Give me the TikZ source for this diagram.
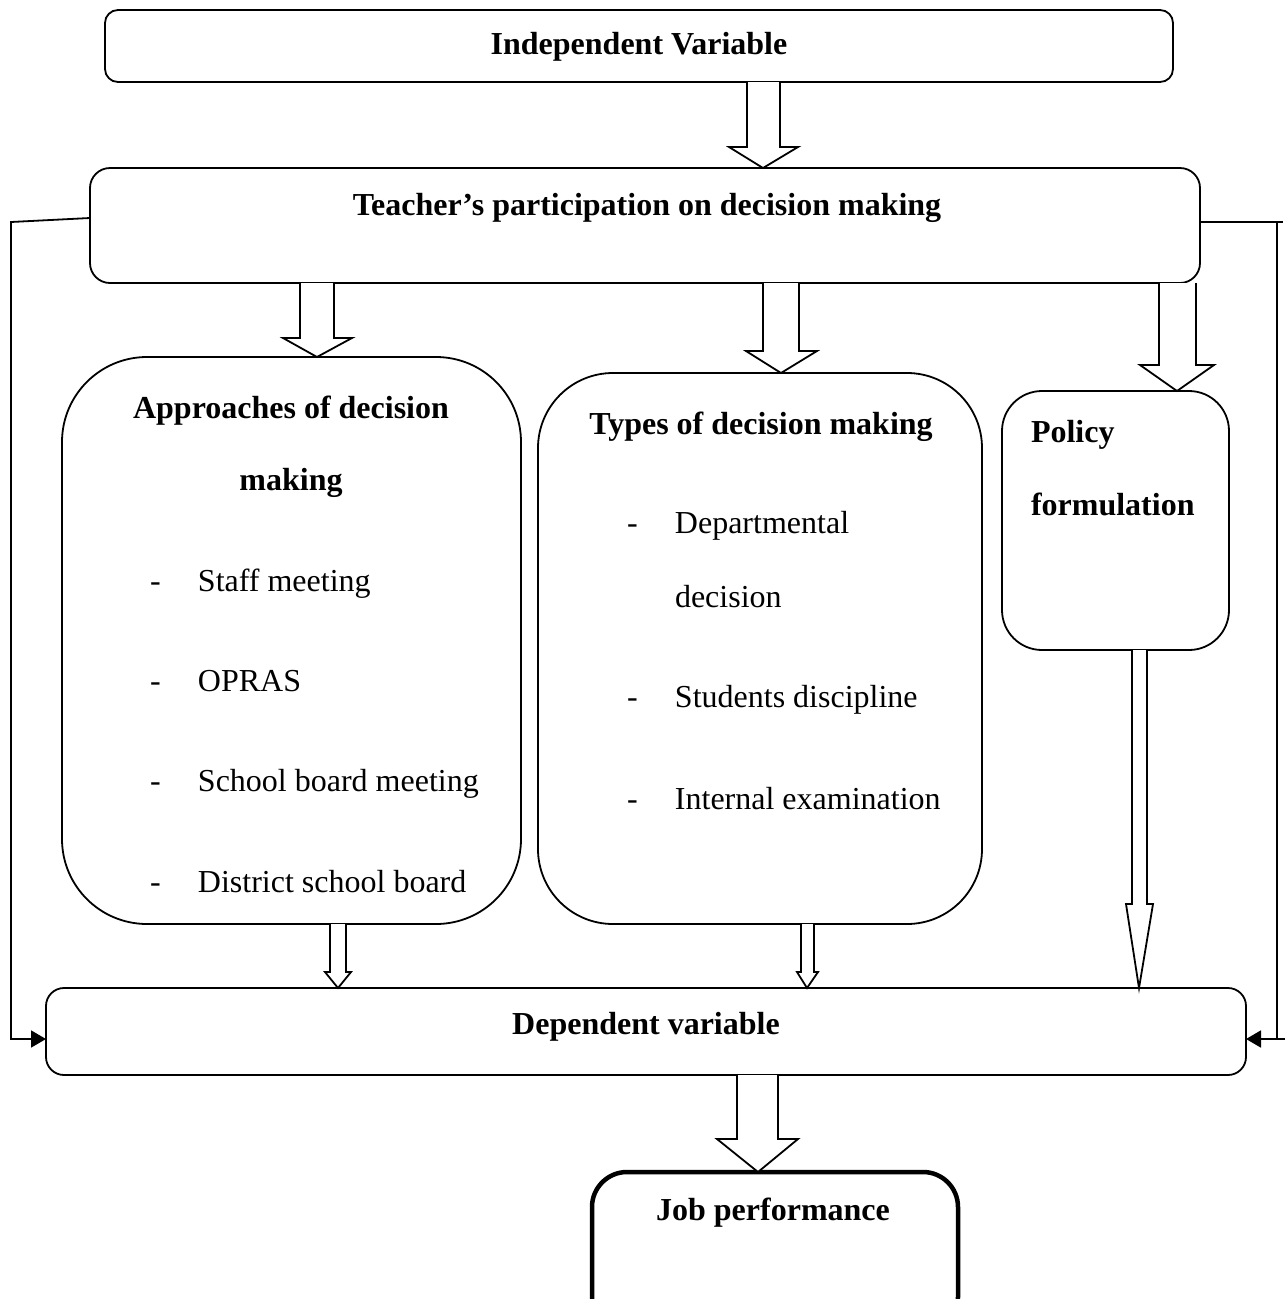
\documentclass[tikz,border=0pt]{standalone}
\usepackage{fontspec}
\setmainfont{Liberation Serif}
\usetikzlibrary{arrows.meta,calc}
\newcommand\blockarr[8]{%
  \draw[barr] (#3,0 |- #1.south) -- (#3,#7) -- (#5,#7) -- (#8,0 |- #2.north) -- (#6,#7) -- (#4,#7) -- (#4,0 |- #1.south);}
\begin{document}
\begin{tikzpicture}[x=1pt,y=-1pt,
  box/.style={draw,line width=1.8pt,rounded corners=#1,inner sep=0pt,outer sep=0pt,anchor=north west},
  box/.default=15pt,
  txt/.style={inner sep=0pt,outer sep=0pt,font=\fontsize{32}{38}\selectfont},
  btxt/.style={txt,font=\fontsize{32}{38}\selectfont\bfseries},
  barr/.style={draw,line width=1.8pt,line join=miter,fill=white},
  conn/.style={draw,line width=1.8pt},
  tip/.style={-{Triangle[length=15pt,width=17pt]}}
]
\clip (0,0) rectangle (1286,1299);
\fill[white] (0,0) rectangle (1286,1299);

% boxes
\node[box=13pt,minimum width=1068pt,minimum height=72pt] (indep) at (105,10) {};
\node[box=20pt,minimum width=1110pt,minimum height=115pt] (teach) at (90,168) {};
\node[box=85pt,minimum width=459pt,minimum height=567pt] (appr) at (62,357) {};
\node[box=75pt,minimum width=444pt,minimum height=551pt] (types) at (538,373) {};
\node[box=40pt,minimum width=227pt,minimum height=259pt] (policy) at (1002,391) {};
\node[box=18pt,minimum width=1200pt,minimum height=87pt] (dep) at (46,988) {};
\node[box=35pt,line width=4.5pt,minimum width=366pt,minimum height=160pt] (job) at (592,1172) {};

% texts
\node[btxt,anchor=base] (t1) at (639,54) {Independent Variable};
\node[btxt,anchor=base] (t2) at (647,215) {Teacher’s participation on decision making};
\node[btxt,anchor=base] (t3) at (291,418) {Approaches of decision};
\node[btxt,anchor=base] (t4) at (291,490) {making};
\node[txt,anchor=base west] (a1) at (150,591) {\makebox[48pt][l]{-}Staff meeting};
\node[txt,anchor=base west] (a2) at (150,691) {\makebox[48pt][l]{-}OPRAS};
\node[txt,anchor=base west] (a3) at (150,791) {\makebox[48pt][l]{-}School board meeting};
\node[txt,anchor=base west] (a4) at (150,892) {\makebox[48pt][l]{-}District school board};
\node[btxt,anchor=base] (t5) at (761,434) {Types of decision making};
\node[txt,anchor=base west] (b1) at (627,533) {\makebox[48pt][l]{-}Departmental};
\node[txt,anchor=base west] (b2) at (675,607) {decision};
\node[txt,anchor=base west] (b3) at (627,707) {\makebox[48pt][l]{-}Students discipline};
\node[txt,anchor=base west] (b4) at (627,809) {\makebox[48pt][l]{-}Internal examination};
\node[btxt,anchor=base west] (p1) at (1031,442) {Policy};
\node[btxt,anchor=base west] (p2) at (1031,515) {formulation};
\node[btxt,anchor=base] (t6) at (646,1034) {Dependent variable};
\node[btxt,anchor=base] (t7) at (773,1220) {Job performance};

% block arrows
\blockarr{indep}{teach}{747}{780}{729}{798}{147}{763}
\blockarr{teach}{appr}{300}{334}{283}{352}{338}{317}
\blockarr{teach}{types}{763}{799}{746}{817}{351}{781}
\blockarr{teach}{policy}{1159}{1196}{1140}{1214}{365}{1177}
\blockarr{appr}{dep}{330}{346}{325}{351}{972}{338}
\blockarr{types}{dep}{801}{814}{797}{818}{972}{807}
\blockarr{policy}{dep}{1132}{1147}{1126}{1153}{904}{1139}
\blockarr{dep}{job}{737}{778}{717}{798}{1139}{758}

% side connectors
\draw[conn,tip] (teach.west |- 0,218) -- (11,222) -- (11,1039) -- (dep.west |- 0,1039);
\draw[conn] (teach.east |- 0,222) -- (1283,222);
\draw[conn] (1277,222) -- (1277,1039);
\draw[conn,tip] (1285,1039) -- (dep.east |- 0,1039);
\end{tikzpicture}
\end{document}
